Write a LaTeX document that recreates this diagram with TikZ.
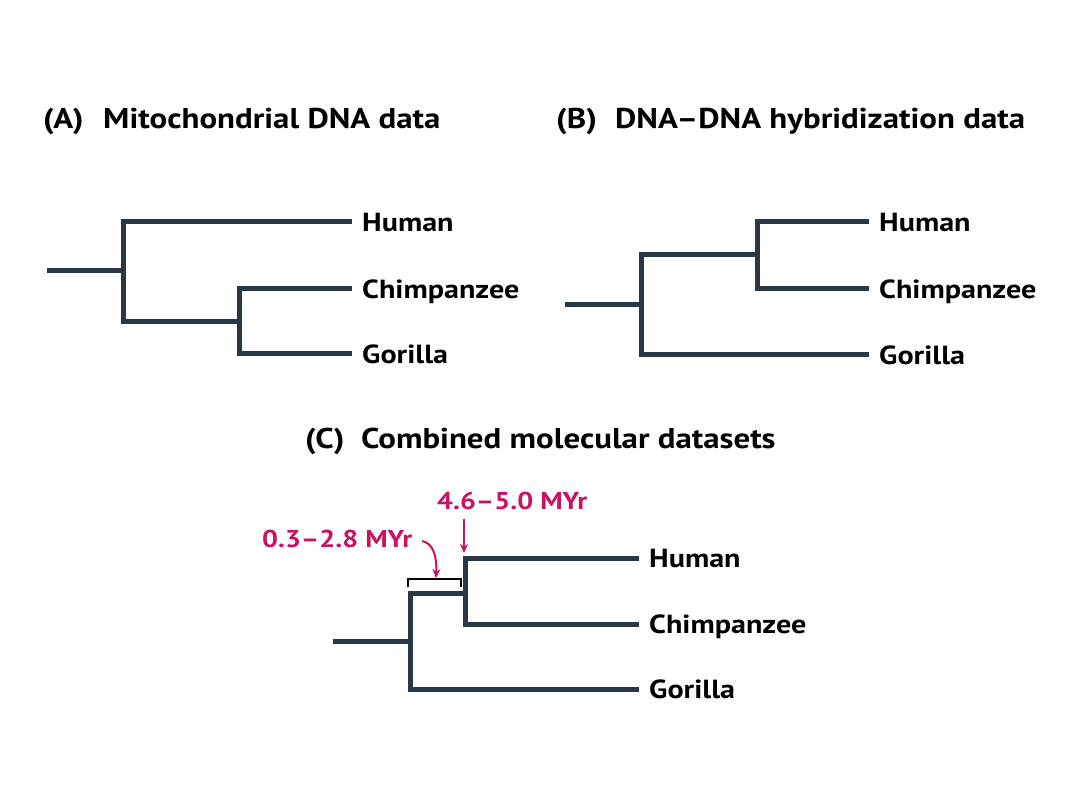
\documentclass[tikz,border=0pt]{standalone}
\usepackage{fontspec}
\setmainfont{PT Sans}[FakeStretch=1.15]
\usetikzlibrary{arrows.meta}
\definecolor{treecol}{RGB}{42,56,70}
\definecolor{magcol}{RGB}{200,18,98}
\begin{document}
\begin{tikzpicture}[x=1pt,y=-1pt,
  branch/.style={draw=treecol,line width=5pt,line join=miter},
  leaf/.style={anchor=west,inner xsep=10pt,inner ysep=0pt,font=\fontsize{26.2}{28}\selectfont\bfseries,text height=18.6pt,text depth=0pt},
  title/.style={anchor=base west,inner sep=0pt,font=\fontsize{28.6}{30}\selectfont\bfseries},
  panel/.style={anchor=base west,inner sep=0pt,font=\fontsize{28.6}{30}\selectfont\bfseries},
  datelabel/.style={anchor=base west,inner sep=0pt,text=magcol,font=\fontsize{24.4}{26}\selectfont\bfseries},
  datearrow/.style={draw=magcol,line width=2pt,-{Stealth[length=9pt,width=8pt]}},
  bracket/.style={draw=black,line width=2pt}]
\useasboundingbox (0,0) rectangle (1080,810);
% titles
\node[panel] (pA) at (43,129) {(A)};
\node[title] (tA) at (103,129) {Mitochondrial DNA data};
\node[panel] (pB) at (556,129) {(B)};
\node[title] (tB) at (615,129) {DNA–DNA hybridization data};
\node[panel] (pC) at (305,449) {(C)};
\node[title] (tC) at (361,449) {Combined molecular datasets};
% tree A
\coordinate (a0) at (47,271);
\coordinate (a1) at (123,271);
\coordinate (a2) at (239,322);
\node[leaf] (hA) at (352,222) {Human};
\node[leaf] (cA) at (352,289) {Chimpanzee};
\node[leaf] (gA) at (352,354) {Gorilla};
\draw[branch] (a0) -- (a1);
\draw[branch] (hA.west) -| (a1) |- (a2);
\draw[branch] (cA.west) -| (a2) |- (gA.west);
% tree B
\coordinate (b0) at (565,305);
\coordinate (b1) at (641,305);
\coordinate (b2) at (757,255);
\node[leaf] (hB) at (869,222) {Human};
\node[leaf] (cB) at (869,289) {Chimpanzee};
\node[leaf] (gB) at (869,355) {Gorilla};
\draw[branch] (b0) -- (b1);
\draw[branch] (b2) -| (b1) |- (gB.west);
\draw[branch] (hB.west) -| (b2) |- (cB.west);
% tree C
\coordinate (c0) at (333,641);
\coordinate (c1) at (410,641);
\coordinate (c2) at (465,593);
\node[leaf] (hC) at (639,558) {Human};
\node[leaf] (cC) at (639,624) {Chimpanzee};
\node[leaf] (gC) at (639,689) {Gorilla};
\draw[branch] (c0) -- (c1);
\draw[branch] (c2) -| (c1) |- (gC.west);
\draw[branch] (hC.west) -| (c2) |- (cC.west);
% bracket
\coordinate (k1) at (408,587);
\coordinate (k2) at (408,579);
\coordinate (k3) at (461,579);
\coordinate (k4) at (461,587);
\draw[bracket] (k1) -- (k2) -- (k3) -- (k4);
% dates
\node[datelabel] (d1) at (437,509) {4.6–5.0 MYr};
\node[datelabel] (d2) at (262,547) {0.3–2.8 MYr};
\coordinate (e1s) at (464,519);
\coordinate (e1e) at (464,553);
\coordinate (e2s) at (422,541);
\coordinate (e2e) at (436,578);
\draw[datearrow] (e1s) -- (e1e);
\draw[datearrow] (e2s) .. controls (433,543) and (437,556) .. (e2e);
\end{tikzpicture}
\end{document}
